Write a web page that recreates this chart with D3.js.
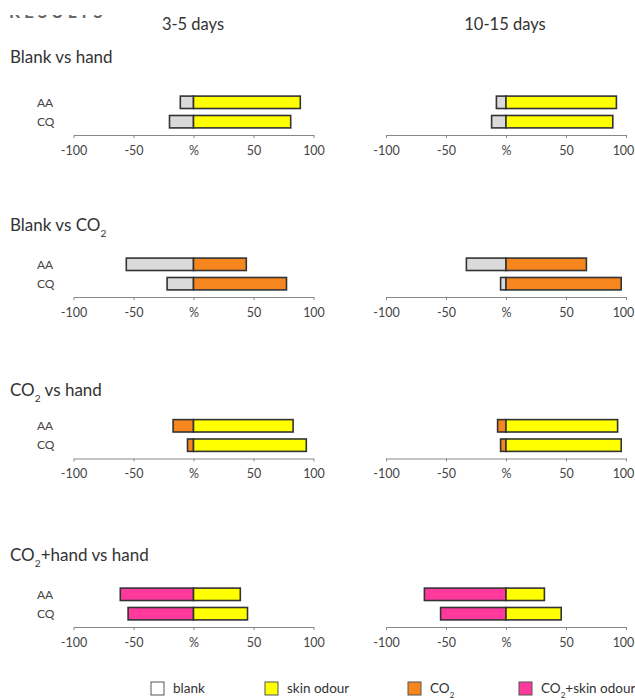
<!DOCTYPE html>
<html>
<head>
<meta charset="utf-8">
<script src="https://cdn.jsdelivr.net/npm/d3@7"></script>
<style>
  body { margin: 0; background: white; }
  svg { font-family: Lato, "Open Sans", sans-serif; }
</style>
</head>
<body>
<svg id="chart"></svg>
<script>
// mosquito choice tests, % per group
var W = 635, H = 700;

var categories = ["AA", "CQ"];
var periods = ["3-5 days", "10-15 days"];
var comparisons = ["Blank vs hand", "Blank vs CO2", "CO2 vs hand", "CO2+hand vs hand"];
var negSeries = ["blank", "blank", "CO2", "CO2+skin odour"];
var posSeries = ["skin odour", "CO2", "skin odour", "skin odour"];
var tickValues = [-100, -50, 0, 50, 100];

// [comparison][period][category]
var negValues = [
  [[-11, -20], [-8, -12]],
  [[-56, -22], [-33, -4.5]],
  [[-17, -5], [-7, -4.5]],
  [[-61, -54.5], [-68, -54.5]]
];
var posValues = [
  [[89, 81], [92, 89]],
  [[44, 77.5], [67, 96]],
  [[83, 94], [93, 96]],
  [[39, 45], [32, 46]]
];

var legendItems = ["blank", "skin odour", "CO2", "CO2+skin odour"];

var fillColor = {
  "blank": "#dadada",
  "skin odour": "#ffff00",
  "CO2": "#f7861f",
  "CO2+skin odour": "#ff3a9c"
};
var legendFill = {
  "blank": "#ffffff",
  "skin odour": "#ffff00",
  "CO2": "#f7861f",
  "CO2+skin odour": "#ff3a9c"
};

var titleY = [63, 231, 396, 561];
var axisY = [135, 297, 458.5, 627];
var panelRange = [[73.5, 313.5], [386, 626]];
var periodX = [193, 505];

var svg = d3.select("#chart").attr("width", W).attr("height", H);

svg.append("rect").attr("width", "100%").attr("height", "100%").attr("fill", "white");

// text with CO2 subscript
function richText(sel, str, size) {
  var parts = str.split("CO2");
  parts.forEach(function (p, i) {
    if (i > 0) {
      sel.append("tspan").text("CO");
      sel.append("tspan").attr("baseline-shift", "sub").style("font-size", (size * 0.6) + "px").text("2");
    }
    if (p.length) sel.append("tspan").text(p);
  });
}

// clipped heading at top
var clip = svg.append("clipPath").attr("id", "topclip");
clip.append("rect").attr("x", 0).attr("y", 15).attr("width", 200).attr("height", 3);
svg.append("text")
  .attr("clip-path", "url(#topclip)")
  .attr("x", 9).attr("y", 17.5)
  .style("font-size", "17px").style("font-weight", "bold")
  .style("letter-spacing", "4px")
  .attr("fill", "#666")
  .text("RESULTS");

periods.forEach(function (p, j) {
  svg.append("text")
    .attr("x", periodX[j]).attr("y", 30)
    .attr("text-anchor", "middle")
    .style("font-size", "16.5px")
    .attr("fill", "#333")
    .text(p);
});

comparisons.forEach(function (c, i) {
  var t = svg.append("text")
    .attr("x", 10).attr("y", titleY[i])
    .style("font-size", "17px")
    .attr("fill", "#333");
  richText(t, c, 17);

  var y = d3.scaleBand()
    .domain(categories)
    .range([axisY[i] - 42, axisY[i] - 4])
    .paddingInner(0.36)
    .paddingOuter(0.16);

  periods.forEach(function (p, j) {
    var x = d3.scaleLinear().domain([-100, 100]).range(panelRange[j]);

    if (j === 0) {
      svg.append("g").selectAll("text")
        .data(categories)
        .enter().append("text")
        .attr("x", 37)
        .attr("y", d => y(d) + y.bandwidth() / 2)
        .attr("dy", "0.35em")
        .style("font-size", "12px")
        .attr("fill", "#444")
        .text(d => d);
    }

    var g = svg.append("g");

    var rows = categories.map(function (cat, k) {
      return {cat: cat, neg: negValues[i][j][k], pos: posValues[i][j][k]};
    });

    g.selectAll("rect.neg")
      .data(rows)
      .enter().append("rect")
      .attr("class", "neg")
      .attr("x", d => x(d.neg))
      .attr("y", d => y(d.cat))
      .attr("width", d => x(0) - x(d.neg))
      .attr("height", y.bandwidth())
      .attr("fill", fillColor[negSeries[i]])
      .attr("stroke", "#333")
      .attr("stroke-width", 1.6);

    g.selectAll("rect.pos")
      .data(rows)
      .enter().append("rect")
      .attr("class", "pos")
      .attr("x", x(0))
      .attr("y", d => y(d.cat))
      .attr("width", d => x(d.pos) - x(0))
      .attr("height", y.bandwidth())
      .attr("fill", fillColor[posSeries[i]])
      .attr("stroke", "#333")
      .attr("stroke-width", 1.6);

    var axis = svg.append("g")
      .attr("transform", "translate(0," + axisY[i] + ")")
      .call(d3.axisBottom(x)
        .tickValues(tickValues)
        .tickFormat(d => d === 0 ? "%" : d)
        .tickSize(3)
        .tickSizeOuter(0)
        .tickPadding(8));
    axis.select(".domain").attr("stroke", "#888");
    axis.selectAll(".tick line").attr("stroke", "#888");
    axis.selectAll(".tick text")
      .style("font-size", "12.5px")
      .style("font-family", "Lato, 'Open Sans', sans-serif")
      .attr("fill", "#444");
    if (j === 1) {
      axis.selectAll(".tick text").filter(d => d === 100).attr("dx", "-3");
    }
  });
});

// legend
var legendX = [151, 265, 408, 519];
var legend = svg.append("g")
  .selectAll("g")
  .data(legendItems)
  .enter().append("g")
  .attr("transform", (d, k) => "translate(" + legendX[k] + ",682)");

legend.append("rect")
  .attr("width", 13).attr("height", 13)
  .attr("fill", d => legendFill[d])
  .attr("stroke", "#555")
  .attr("stroke-width", 1);

legend.each(function (d) {
  var t = d3.select(this).append("text")
    .attr("x", 22).attr("y", 11)
    .style("font-size", "13.5px")
    .attr("fill", "#333");
  richText(t, d, 13.5);
});
</script>
</body>
</html>
